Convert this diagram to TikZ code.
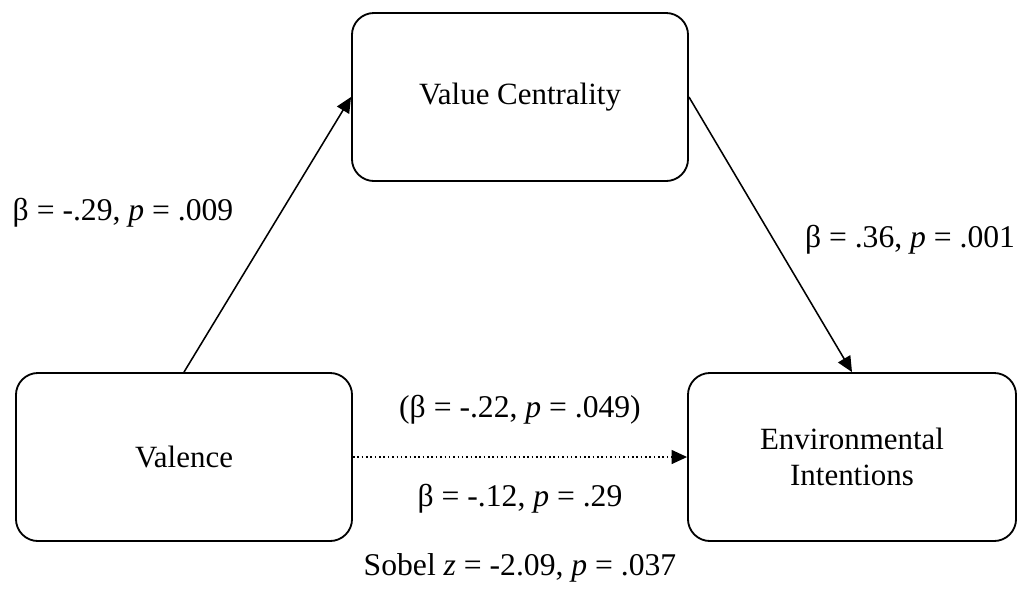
\documentclass[tikz,border=0pt]{standalone}
\usepackage{fontspec}
\setmainfont{Liberation Serif}
\usetikzlibrary{arrows.meta}

\begin{document}
\begin{tikzpicture}[x=0.025cm,y=-0.025cm,
  box/.style={rectangle,draw,line width=1.3pt,rounded corners=0.55cm,
    minimum height=4.2cm,align=center,font=\fontsize{22}{26}\selectfont},
  path/.style={draw,line width=1.1pt,-{Triangle[length=11pt,width=10pt]}},
  coef/.style={font=\fontsize{22.5}{26}\selectfont}]
    \useasboundingbox (0,0) rectangle (1018,588);
    % Variables
    \node[box,minimum width=8.4cm] (centrality) at (520,97) {Value Centrality};
    \node[box,minimum width=8.4cm] (valence) at (184,457) {Valence};
    \node[box,minimum width=8.2cm] (intentions) at (852,457) {Environmental\\Intentions};
    % Paths
    \draw[path] (valence.north) -- (centrality.west);
    \draw[path] (centrality.east) -- (intentions.north);
    \draw[path,dotted,line width=0.8pt] (valence.east) -- (intentions.west);
    % Coefficients
    \node[coef] (apath) at (123,213) {β = -.29, \textit{p} = .009};
    \node[coef] (bpath) at (910,240) {β = .36, \textit{p} = .001};
    \node[coef] (cpath) at (520,410) {(β = -.22, \textit{p} = .049)};
    \node[coef] (cprime) at (520,499) {β = -.12, \textit{p} = .29};
    \node[coef] (sobel) at (520,568) {Sobel \textit{z} = -2.09, \textit{p} = .037};
\end{tikzpicture}
\end{document}
